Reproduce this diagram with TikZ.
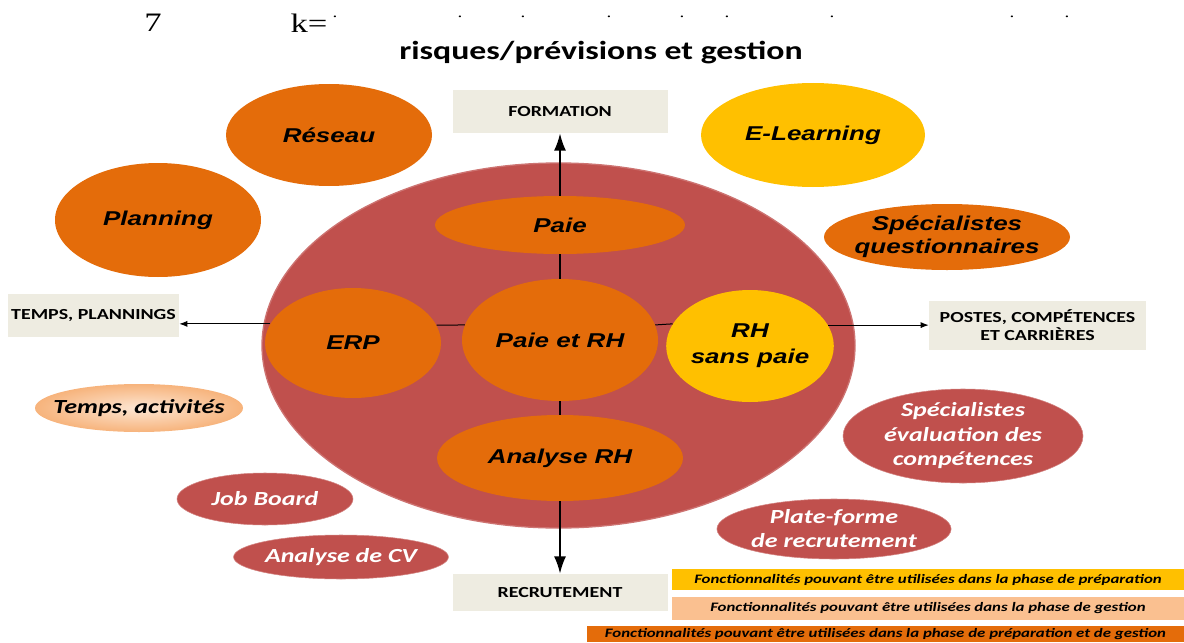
\documentclass[tikz,border=0pt]{standalone}
\usepackage{fontspec}
\setmainfont{Liberation Serif}[FakeStretch=1.3]
\newfontfamily\arialfont{Liberation Sans}[FakeStretch=1.3]
\newfontfamily\califont{Carlito}[FakeStretch=1.3]
\usetikzlibrary{shapes.geometric, arrows.meta}

\definecolor{hrorange}{HTML}{E46C0A}
\definecolor{hryellow}{HTML}{FFC000}
\definecolor{hrred}{HTML}{C0504D}
\definecolor{hrpeach}{HTML}{FAC090}
\definecolor{hrgray}{HTML}{EEECE1}

\begin{document}
\begin{tikzpicture}[x=0.75pt, y=-0.75pt,
    oval/.style 2 args={ellipse, inner sep=0pt, minimum width=#1*1.5pt, minimum height=#2*1.5pt},
    panel/.style 2 args={rectangle, inner sep=0pt, minimum width=#1*0.75pt, minimum height=#2*0.75pt},
    bold/.style={font=\arialfont\bfseries\itshape\fontsize{15}{17.25}\selectfont, align=center},
    soft/.style={font=\califont\bfseries\itshape\fontsize{15}{18.4}\selectfont, align=center, text=white},
    tag/.style={fill=hrgray, font=\califont\bfseries\fontsize{11.5}{13.5}\selectfont, align=center},
    key/.style={font=\califont\bfseries\itshape\fontsize{9.7}{10}\selectfont},
    varrow/.style={line width=1.5pt, -{Latex[length=13pt, width=9pt]}},
    harrow/.style={line width=0.75pt, -{Latex[length=6pt, width=4.5pt]}}]
  \useasboundingbox (0,0) rectangle (1184,642);

  % heading
  \node[font=\fontsize{20}{22}\selectfont] (num) at (153,23) {7};
  \node[font=\fontsize{20}{22}\selectfont] (keq) at (309,23) {k=};
  \foreach \x in {335, 460, 523, 609, 682, 727, 832, 1012, 1067}
    \node[font=\fontsize{11}{11}\selectfont, inner sep=0pt] (dot\x) at (\x,17) {.};
  \node[font=\califont\bfseries\fontsize{19.5}{22}\selectfont] (title) at (601,53) {risques/prévisions et gestion};

  % big circle
  \node[oval={296.5}{182.5}, fill=hrred, draw=hrred!80!white, line width=1pt] (hub) at (558.5,345.5) {};

  % outer ellipses
  \node[oval={103}{51}, fill=hrorange, bold] (reseau) at (329,135) {Réseau};
  \node[oval={103}{57}, fill=hrorange, bold] (planning) at (158,220) {Planning};
  \node[oval={112}{52}, fill=hryellow, bold] (elearning) at (813,135) {E-Learning};
  \node[oval={123}{33}, fill=hrorange, bold, inner xsep=-7pt] (questionnaires) at (947,237) {Spécialistes\\questionnaires};
  \node[oval={104}{24}, shade, inner color=hrpeach!40!white, outer color=hrpeach!85!hrorange, soft, text=black, inner xsep=-9pt] (activites) at (139,408) {Temps, activités};
  \node[oval={88}{26}, fill=hrred, draw=hrred!70!white, soft] (jobboard) at (265,499) {Job Board};
  \node[oval={106}{22}, fill=hrred, draw=hrred!70!white, soft] (cv) at (341,557) {Analyse de CV};
  \node[oval={120}{47}, fill=hrred, draw=hrred!70!white, soft, inner ysep=-3pt] (evaluation) at (963,436) {Spécialistes\\évaluation des\\compétences};
  \node[oval={117}{30}, fill=hrred, draw=hrred!70!white, soft, font=\califont\bfseries\itshape\fontsize{15}{18}\selectfont] (plateforme) at (834,529) {Plate-forme\\de recrutement};

  % inner ellipses
  \node[oval={125}{29}, fill=hrorange, bold] (paie) at (560,225) {Paie};
  \node[oval={88}{55}, fill=hrorange, bold] (erp) at (353,343) {ERP};
  \node[oval={98}{61}, fill=hrorange, bold] (paierh) at (560,340) {Paie et RH};
  \node[oval={82}{56}, fill=hryellow, bold, font=\arialfont\bfseries\itshape\fontsize{15}{19.5}\selectfont] (rhsanspaie) at (750,346) {RH\\sans paie};
  \node[oval={123}{43}, fill=hrorange, bold] (analyse) at (560,458) {Analyse RH};

  % boxes
  \node[panel={215}{43}, tag] (formation) at (560,111.5) {FORMATION};
  \node[panel={171}{43}, tag] (plannings) at (93.5,315.5) {TEMPS, PLANNINGS};
  \node[panel={217}{49}, tag] (postes) at (1037.5,325.5) {POSTES, COMPÉTENCES\\ET CARRIÈRES};
  \node[panel={215}{37}, tag] (recrutement) at (560,592.5) {RECRUTEMENT};

  % connectors
  \draw[varrow] (paie) -- (formation);
  \draw[line width=1.5pt] (paie) -- (paierh);
  \draw[line width=1.5pt] (paierh) -- (analyse);
  \draw[varrow] (analyse) -- (recrutement);
  \draw[harrow] (erp.167.8) -- (erp.167.8 -| plannings.east);
  \draw[line width=0.75pt] (erp.12.2) -- (paierh.171);
  \draw[line width=0.75pt] (paierh.9) -- (rhsanspaie.164.6);
  \draw[harrow] (rhsanspaie.15.4) -- (rhsanspaie.15.4 -| postes.west);

  % legend
  \node[panel={512}{21}, fill=hryellow, key] (prep) at (928,579.5) {Fonctionnalités pouvant être utilisées dans la phase de préparation};
  \node[panel={512}{23}, fill=hrpeach, key] (gest) at (928,608.5) {Fonctionnalités pouvant être utilisées dans la phase de gestion};
  \node[panel={597}{16}, fill=hrorange, key] (both) at (885.5,634) {Fonctionnalités pouvant être utilisées dans la phase de préparation et de gestion};
\end{tikzpicture}
\end{document}
